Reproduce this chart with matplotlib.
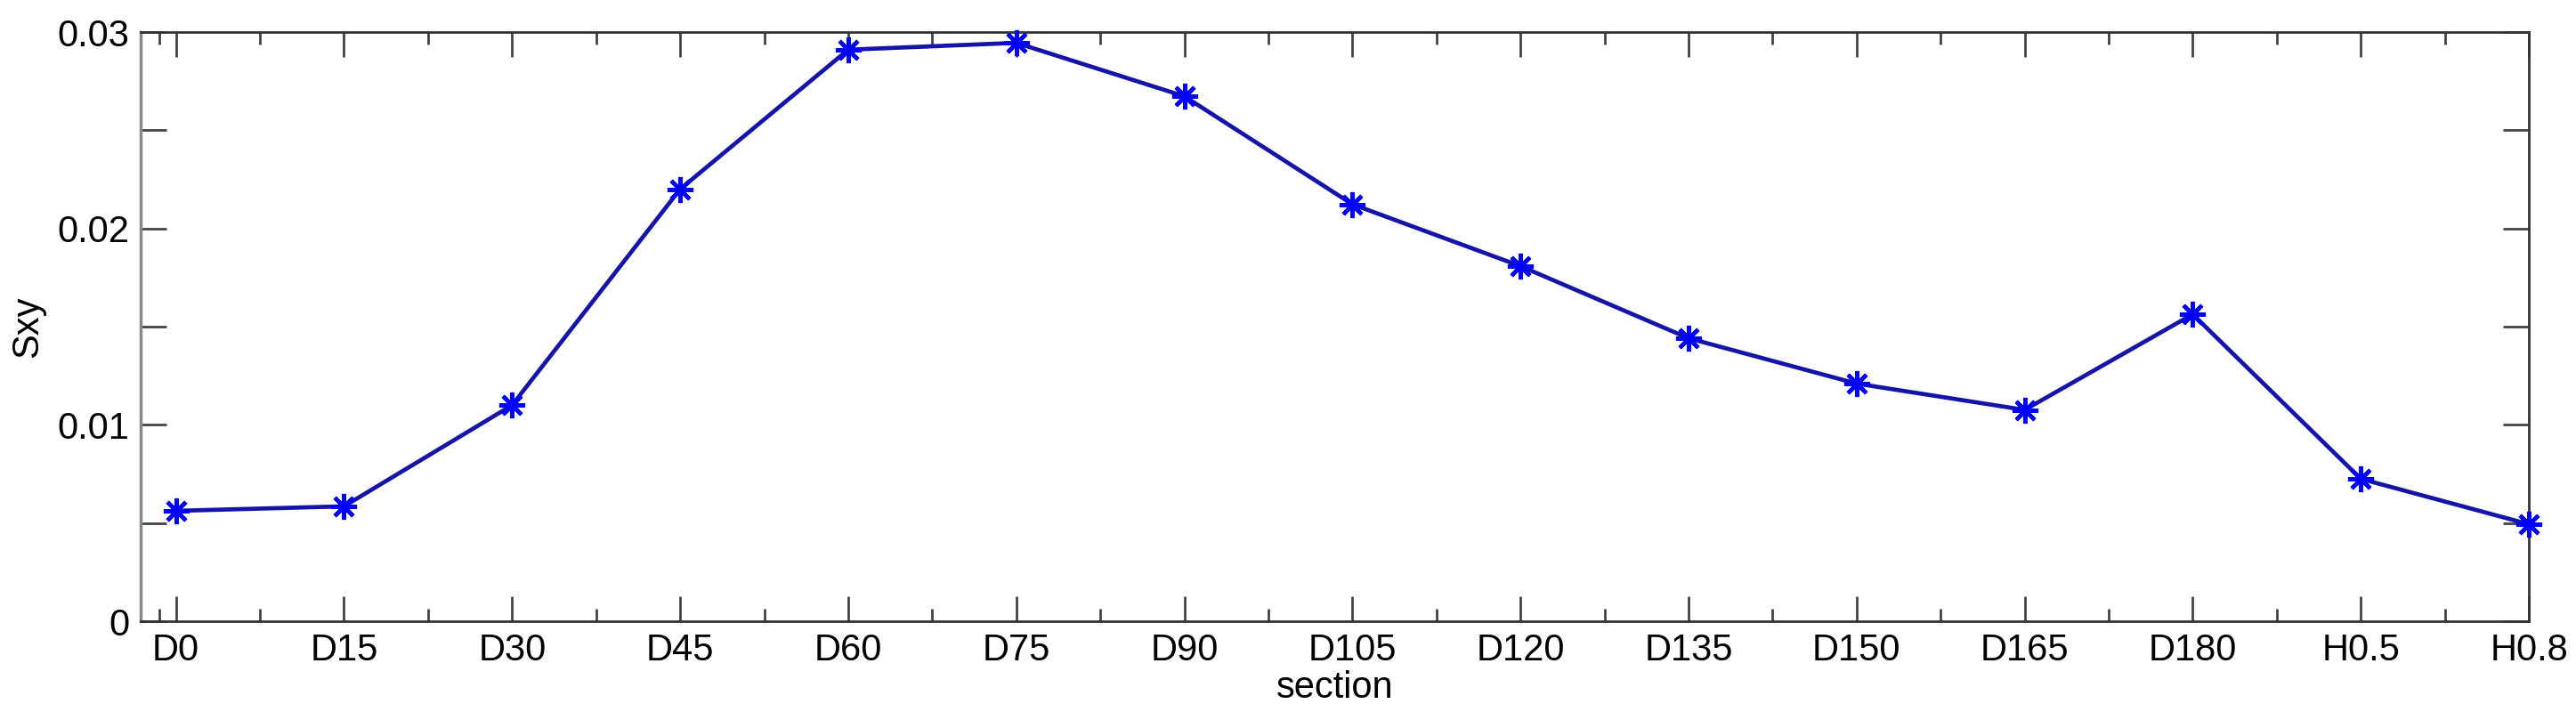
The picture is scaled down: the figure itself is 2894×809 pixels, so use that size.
import numpy as np
import matplotlib
matplotlib.use('Agg')
import matplotlib.pyplot as plt

# Datos
sections = ['D0', 'D15', 'D30', 'D45', 'D60', 'D75', 'D90', 'D105', 'D120',
            'D135', 'D150', 'D165', 'D180', 'H0.5', 'H0.8']
sxy = [0.00562, 0.00585, 0.0110, 0.0220, 0.0291, 0.02945, 0.02673, 0.02123,
       0.01808, 0.01441, 0.0121, 0.01076, 0.01563, 0.00725, 0.00494]

plt.rcParams['font.family'] = ['Liberation Sans', 'DejaVu Sans']

fig = plt.figure(figsize=(28.94, 8.09), dpi=100)
ax = fig.add_axes([0.0546, 0.1372, 0.9817 - 0.0546, 0.9555 - 0.1372])

x = np.arange(len(sections))
ax.plot(x, sxy, '-', color='#1414a8', linewidth=3.4, zorder=3)
ax.plot(x, sxy, linestyle='none', marker=(8, 2, 0), markersize=21,
        markeredgewidth=3.2, color='#0000ff', zorder=4, clip_on=False)

ax.set_xlim(-0.21, 14)
ax.set_ylim(0, 0.03)

ax.set_xticks(x)
ax.set_xticklabels(sections)
ax.set_xticks(list(np.arange(0.5, 14, 1.0)) + [-0.1], minor=True)
ax.set_yticks([0, 0.01, 0.02, 0.03])
ax.set_yticklabels(['0', '0.01', '0.02', '0.03'])
ax.set_yticks([0.005, 0.015, 0.025], minor=True)

ax.tick_params(axis='both', which='both', direction='in', top=True, right=True,
               labelsize=30, pad=9, color='#444444', width=2)
ax.tick_params(axis='x', which='major', length=20)
ax.tick_params(axis='x', which='minor', length=10)
ax.tick_params(axis='y', which='both', length=21)

for side in ['top', 'bottom', 'right']:
    ax.spines[side].set_color('#333333')
    ax.spines[side].set_linewidth(2)
ax.spines['left'].set_color('#888888')
ax.spines['left'].set_linewidth(2.5)

ax.set_xlabel('section', fontsize=30, labelpad=2)
ax.set_ylabel('Sxy', fontsize=30, labelpad=10)

fig.savefig('out.png', dpi=100)
